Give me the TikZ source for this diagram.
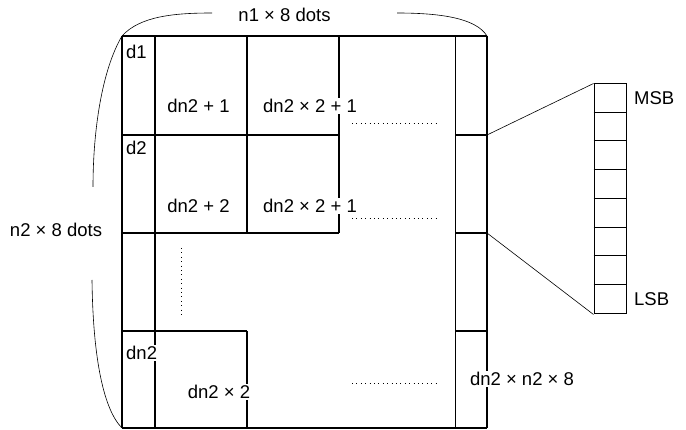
\documentclass[tikz,border=0pt]{standalone}
\usepackage{fontspec}
\setmainfont{Liberation Sans}
\begin{document}
\begin{tikzpicture}[x=1pt,y=-1pt,
  grid/.style={line width=1.2pt},
  thinline/.style={line width=0.6pt},
  lbl/.style={font=\fontsize{18.5}{21}\selectfont, inner sep=1pt},
  wl/.style={lbl, fill=white},
  dotline/.style={line width=0.8pt, dash pattern=on 0.8pt off 3.6pt}]
\useasboundingbox (0,0) rectangle (686,430);
% grid
\draw[grid] (122,36) -- (487,36);
\draw[grid] (122,428) -- (487,428);
\draw[grid] (122,36) -- (122,428);
\draw[grid] (155,36) -- (155,428);
\draw[grid] (247,36) -- (247,233);
\draw[grid] (247,331) -- (247,428);
\draw[grid] (339,36) -- (339,233);
\draw[line width=0.9pt] (455,36) -- (455,428);
\draw[grid] (487,36) -- (487,428);
\draw[grid] (122,135) -- (339,135);
\draw[grid] (455,135) -- (487,135);
\draw[grid] (122,233) -- (339,233);
\draw[grid] (455,233) -- (487,233);
\draw[grid] (122,331) -- (247,331);
\draw[grid] (455,331) -- (487,331);
% dotted
\draw[dotline] (352,123) -- (438,123);
\draw[dotline] (352,218) -- (438,218);
\draw[dotline] (352,383) -- (438,383);
\draw[dotline] (181,248) -- (181,317);
% brackets
\coordinate (tl) at (122,36);
\coordinate (tr) at (487,36);
\coordinate (bl) at (122,428);
\node[lbl] (n1) at (284.5,15) {n1 × 8 dots};
\node[lbl] (n2) at (56,230) {n2 × 8 dots};
\draw[thinline] (tl) .. controls (140,16) and (175,13) .. (212,13);
\draw[thinline] (397,13) .. controls (440,13) and (476,18) .. (tr);
\draw[thinline] (tl) .. controls (102,70) and (93,130) .. (93,187);
\draw[thinline] (92,280) .. controls (93,360) and (104,410) .. (bl);
% bit box
\node[draw, line width=1pt, minimum width=32pt, minimum height=230pt, inner sep=0pt] (bits) at (610,199) {};
\foreach \i in {1,...,7} {
  \draw[line width=1pt] ([yshift=-\i*28.75pt]bits.north west) -- ([yshift=-\i*28.75pt]bits.north east);
}
\coordinate (c1) at (487,135);
\coordinate (c2) at (487,233);
\draw[thinline] (c1) -- (bits.north west);
\draw[thinline] (c2) -- (bits.south west);
\node[lbl, anchor=west] (msb) at (633,98) {MSB};
\node[lbl, anchor=west] (lsb) at (633,299) {LSB};
% labels
\node[lbl, anchor=west] (d1) at (125,52) {d1};
\node[lbl, anchor=west] (d2) at (125,148) {d2};
\node[lbl] (a1) at (198.5,106) {dn2 + 1};
\node[wl] (b1) at (310,106) {dn2 × 2 + 1};
\node[lbl] (a2) at (198.5,206) {dn2 + 2};
\node[wl] (b2) at (310,206) {dn2 × 2 + 1};
\node[wl, anchor=west] (dn) at (125,353) {dn2};
\node[wl] (dn2x2) at (219,392) {dn2 × 2};
\node[wl] (last) at (522,379) {dn2 × n2 × 8};
\end{tikzpicture}
\end{document}
